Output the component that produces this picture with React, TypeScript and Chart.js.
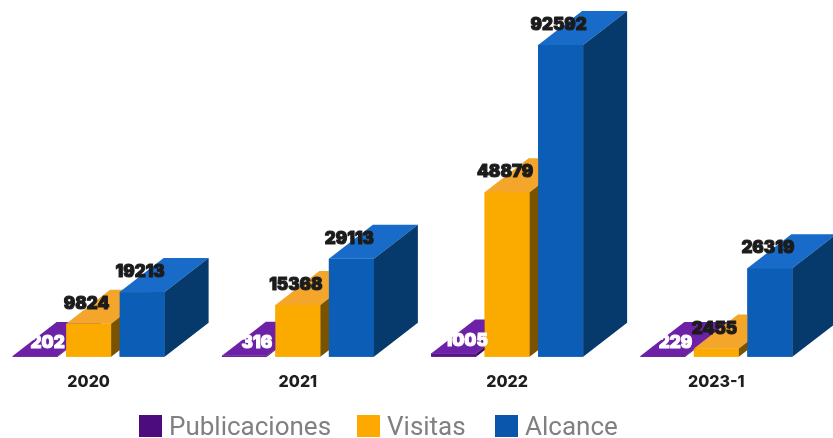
import React, { useEffect, useRef } from 'react';
import { Chart, registerables } from 'chart.js';

Chart.register(...registerables);

const categories = ['2020', '2021', '2022', '2023-1'];
const publicaciones = [202, 316, 1005, 229];
const visitas = [9824, 15368, 48879, 2455];
const alcance = [19213, 29113, 92592, 26319];
const seriesNames = ['Publicaciones', 'Visitas', 'Alcance'];

const FACES = [
  { front: '#5b1389', top: '#6d21a6', side: '#3a0a5d', legend: '#4d0c7d', label: '#ffffff' },
  { front: '#fbaa00', top: '#f4a62b', side: '#7b5200', legend: '#fda900', label: '#1b1b1b' },
  { front: '#0b5db6', top: '#186bc8', side: '#06396c', legend: '#0a56ad', label: '#1b1b1b' },
];

const DX = 44;
const DY = 34;

const bars3d = {
  id: 'bars3d',
  afterDatasetsDraw(chart: any) {
    const ctx = chart.ctx;
    ctx.save();
    const items: any[] = [];
    for (let i = 0; i < categories.length; i++) {
      chart.data.datasets.forEach((ds: any, d: number) => {
        const el = chart.getDatasetMeta(d).data[i];
        if (!el) return;
        const { x, y, base, width } = el.getProps(['x', 'y', 'base', 'width'], true);
        const l = x - width / 2;
        const r = x + width / 2;
        const c = FACES[d];
        ctx.fillStyle = c.front;
        ctx.fillRect(l, y, width, base - y);
        ctx.fillStyle = c.top;
        ctx.beginPath();
        ctx.moveTo(l, y);
        ctx.lineTo(r, y);
        ctx.lineTo(r + DX, y - DY);
        ctx.lineTo(l + DX, y - DY);
        ctx.closePath();
        ctx.fill();
        ctx.fillStyle = c.side;
        ctx.beginPath();
        ctx.moveTo(r, y);
        ctx.lineTo(r + DX, y - DY);
        ctx.lineTo(r + DX, base - DY);
        ctx.lineTo(r, base);
        ctx.closePath();
        ctx.fill();
        items.push({ d, l, x, y, value: ds.data[i] });
      });
    }
    ctx.font = '900 17px Inter, "DejaVu Sans", sans-serif';
    ctx.textAlign = 'center';
    ctx.textBaseline = 'middle';
    ctx.lineWidth = 1;
    ctx.lineJoin = 'round';
    items.forEach((it) => {
      const col = FACES[it.d].label;
      ctx.fillStyle = col;
      ctx.strokeStyle = col;
      const tx = it.d === 0 ? it.l + 35 : it.x - 2;
      const ty = it.d === 0 ? it.y - 13 : it.y - 20;
      ctx.strokeText(String(it.value), tx, ty);
      ctx.fillText(String(it.value), tx, ty);
    });
    ctx.restore();
  },
};

export default function App() {
  const canvasRef = useRef<HTMLCanvasElement | null>(null);

  useEffect(() => {
    if (!canvasRef.current) return;
    const seriesData = [publicaciones, visitas, alcance];
    const chart = new Chart(canvasRef.current, {
      type: 'bar',
      data: {
        labels: categories,
        datasets: seriesNames.map((name, d) => ({
          label: name,
          data: seriesData[d],
          backgroundColor: FACES[d].front,
          borderWidth: 0,
          categoryPercentage: 0.767,
          barPercentage: 0.841,
        })),
      },
      options: {
        animation: false,
        responsive: true,
        maintainAspectRatio: false,
        layout: { padding: { left: 0, right: 12, top: 20, bottom: 38 } },
        plugins: {
          legend: { display: false },
          tooltip: { enabled: false },
        },
        scales: {
          x: {
            grid: { display: false },
            border: { display: false },
            ticks: {
              padding: 8,
              color: '#1e1e1e',
              font: { family: 'Inter, "DejaVu Sans", sans-serif', weight: 800, size: 16 },
            },
          },
          y: { display: false, min: 0, max: 100000 },
        },
      },
      plugins: [bars3d],
    });
    return () => chart.destroy();
  }, []);

  const legendX = [139, 357, 495];

  return (
    <>
      <div style={{ position: 'fixed', left: -16, top: 0, width: 849, height: 438 }}>
        <canvas ref={canvasRef} />
      </div>
      {seriesNames.map((name, d) => (
        <div
          key={name}
          style={{
            position: 'fixed',
            left: legendX[d],
            top: 413,
            height: 26,
            display: 'flex',
            alignItems: 'center',
            whiteSpace: 'nowrap',
          }}
        >
          <div style={{ width: 23, height: 22, background: FACES[d].legend, marginRight: 7 }} />
          <span
            style={{
              fontFamily: 'Roboto, "Noto Sans", sans-serif',
              fontSize: 26,
              lineHeight: '26px',
              color: '#808080',
            }}
          >
            {name}
          </span>
        </div>
      ))}
    </>
  );
}
